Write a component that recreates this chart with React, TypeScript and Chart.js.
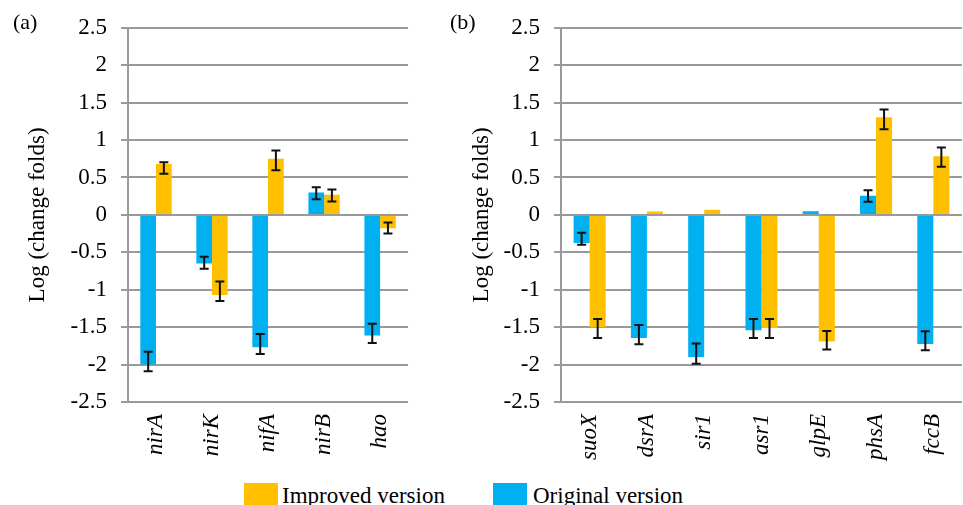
import React, { useEffect, useRef } from 'react';
import { Chart, registerables } from 'chart.js';

Chart.register(...registerables);

const FONT = '"Liberation Serif", "Times New Roman", Times, serif';
const BLUE = '#00B0F0';
const ORANGE = '#FFC000';
const GRID = '#9a9a9a';

// Panel (a)
const genesA = ['nirA', 'nirK', 'nifA', 'nirB', 'hao'];
const originalA = [-2.0, -0.65, -1.77, 0.3, -1.61];
const improvedA = [0.68, -1.07, 0.75, 0.27, -0.18];
const originalLowA = [-2.09, -0.72, -1.86, 0.21, -1.71];
const originalHighA = [-1.83, -0.56, -1.59, 0.37, -1.455];
const improvedLowA = [0.55, -1.15, 0.595, 0.18, -0.25];
const improvedHighA = [0.705, -0.89, 0.86, 0.34, -0.1];

// Panel (b)
const genesB = ['suoX', 'dsrA', 'sir1', 'asr1', 'glpE', 'phsA', 'fccB'];
const originalB = [-0.375, -1.645, -1.9, -1.54, 0.05, 0.256, -1.724];
const improvedB = [-1.5, 0.044, 0.07, -1.51, -1.69, 1.305, 0.785];
const originalLowB = [-0.4, -1.73, -1.99, -1.645, null, 0.176, -1.81];
const originalHighB = [-0.24, -1.47, -1.72, -1.39, null, 0.33, -1.556];
const improvedLowB = [-1.645, null, null, -1.645, -1.8, 1.146, 0.644];
const improvedHighB = [-1.39, null, null, -1.39, -1.55, 1.41, 0.9];

const yMin = -2.5;
const yMax = 2.5;
const yStep = 0.5;

const seriesNames = { improved: 'Improved version', original: 'Original version' };

const errorBarPlugin = {
  id: 'errorBars',
  afterDatasetsDraw(chart: any) {
    const { ctx } = chart;
    const yScale = chart.scales.y;
    chart.data.datasets.forEach((ds: any, i: number) => {
      const meta = chart.getDatasetMeta(i);
      const lows = ds.errLow || [];
      const highs = ds.errHigh || [];
      meta.data.forEach((bar: any, j: number) => {
        const lo = lows[j];
        const hi = highs[j];
        if (lo == null || hi == null) return;
        const x = bar.x;
        const yLo = yScale.getPixelForValue(lo);
        const yHi = yScale.getPixelForValue(hi);
        ctx.save();
        ctx.strokeStyle = '#111111';
        ctx.lineWidth = 2;
        ctx.beginPath();
        ctx.moveTo(x, yLo);
        ctx.lineTo(x, yHi);
        ctx.moveTo(x - 4.5, yLo);
        ctx.lineTo(x + 4.5, yLo);
        ctx.moveTo(x - 4.5, yHi);
        ctx.lineTo(x + 4.5, yHi);
        ctx.stroke();
        ctx.restore();
      });
    });
  },
};

type PanelProps = {
  left: number;
  width: number;
  yAxisWidth: number;
  padRight: number;
  titlePad: number;
  labels: string[];
  original: number[];
  improved: number[];
  origLow: (number | null)[];
  origHigh: (number | null)[];
  impLow: (number | null)[];
  impHigh: (number | null)[];
};

const CANVAS_H = 475;
const PLOT_TOP = 23;
const PLOT_BOTTOM = 402;

function Panel(p: PanelProps) {
  const ref = useRef<HTMLCanvasElement>(null);
  useEffect(() => {
    let chart: any = null;
    let cancelled = false;
    const build = () => {
      if (cancelled || !ref.current) return;
      chart = new Chart(ref.current, {
        type: 'bar',
        data: {
          labels: p.labels,
          datasets: [
            {
              label: seriesNames.original,
              data: p.original,
              backgroundColor: BLUE,
              borderWidth: 0,
              categoryPercentage: 0.56,
              barPercentage: 1,
              errLow: p.origLow,
              errHigh: p.origHigh,
            } as any,
            {
              label: seriesNames.improved,
              data: p.improved,
              backgroundColor: ORANGE,
              borderWidth: 0,
              categoryPercentage: 0.56,
              barPercentage: 1,
              errLow: p.impLow,
              errHigh: p.impHigh,
            } as any,
          ],
        },
        options: {
          responsive: false,
          maintainAspectRatio: false,
          animation: false,
          layout: { padding: { top: PLOT_TOP, right: p.padRight, left: 0, bottom: 0 } },
          plugins: {
            legend: { display: false },
            tooltip: { enabled: false },
          },
          scales: {
            x: {
              grid: { display: false, drawTicks: false },
              border: { display: false },
              ticks: {
                autoSkip: false,
                minRotation: 90,
                maxRotation: 90,
                padding: 12,
                color: '#000000',
                font: { family: FONT, size: 23, style: 'italic' },
              },
              afterFit: (s: any) => {
                s.height = CANVAS_H - PLOT_BOTTOM;
              },
            },
            y: {
              min: yMin,
              max: yMax,
              ticks: {
                stepSize: yStep,
                padding: 14,
                color: '#000000',
                font: { family: FONT, size: 23 },
                callback: (v: any) => String(v),
              },
              grid: { color: GRID, lineWidth: 2, tickLength: 7, drawTicks: true },
              border: { display: true, color: GRID, width: 2 },
              title: {
                display: true,
                text: 'Log (change folds)',
                color: '#000000',
                font: { family: FONT, size: 23 },
                padding: { top: p.titlePad, bottom: 0 },
              },
              afterFit: (s: any) => {
                s.width = p.yAxisWidth;
              },
            },
          },
        } as any,
        plugins: [errorBarPlugin],
      });
    };
    const fonts: any = (document as any).fonts;
    if (fonts && fonts.load) {
      Promise.all([
        fonts.load('23px "Liberation Serif"'),
        fonts.load('italic 23px "Liberation Serif"'),
      ])
        .catch(() => undefined)
        .then(build);
    } else {
      build();
    }
    return () => {
      cancelled = true;
      if (chart) chart.destroy();
    };
  }, []);
  return (
    <canvas
      ref={ref}
      width={p.width}
      height={CANVAS_H}
      style={{ position: 'absolute', left: p.left, top: 0, width: p.width, height: CANVAS_H }}
    />
  );
}

const textStyle: React.CSSProperties = {
  position: 'absolute',
  fontFamily: FONT,
  color: '#000',
  lineHeight: 1,
  whiteSpace: 'nowrap',
};

export default function App() {
  return (
    <div
      style={{
        position: 'absolute',
        left: 0,
        top: 0,
        width: 963,
        height: 505,
        overflow: 'hidden',
        background: '#ffffff',
      }}
    >
      <Panel
        left={0}
        width={420}
        yAxisWidth={128}
        padRight={3}
        titlePad={24}
        labels={genesA}
        original={originalA}
        improved={improvedA}
        origLow={originalLowA}
        origHigh={originalHighA}
        impLow={improvedLowA}
        impHigh={improvedHighA}
      />
      <Panel
        left={440}
        width={533}
        yAxisWidth={121}
        padRight={1}
        titlePad={28}
        labels={genesB}
        original={originalB}
        improved={improvedB}
        origLow={originalLowB}
        origHigh={originalHighB}
        impLow={improvedLowB}
        impHigh={improvedHighB}
      />
      <span style={{ ...textStyle, left: 13, top: 11, fontSize: 22 }}>(a)</span>
      <span style={{ ...textStyle, left: 450, top: 11, fontSize: 22 }}>(b)</span>
      <div style={{ position: 'absolute', left: 244, top: 483, width: 34, height: 22, background: ORANGE }} />
      <span style={{ ...textStyle, left: 282, top: 484, fontSize: 23 }}>{seriesNames.improved}</span>
      <div style={{ position: 'absolute', left: 493, top: 483, width: 34, height: 22, background: BLUE }} />
      <span style={{ ...textStyle, left: 533, top: 484, fontSize: 23 }}>{seriesNames.original}</span>
    </div>
  );
}
